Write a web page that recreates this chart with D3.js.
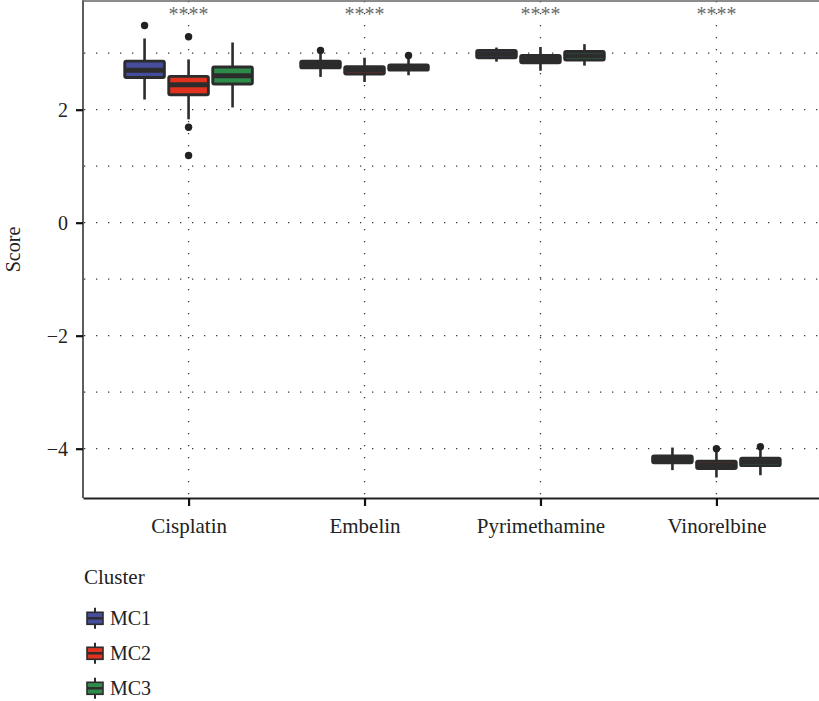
<!DOCTYPE html>
<html>
<head>
<meta charset="utf-8">
<script src="https://cdn.jsdelivr.net/npm/d3@7"></script>
<style>
  html, body { margin: 0; padding: 0; background: #ffffff; }
  svg text { font-family: "Liberation Serif", "Times New Roman", "DejaVu Serif", serif; }
</style>
</head>
<body>
<svg id="chart" width="819" height="701"></svg>
<script>
// Drug response scores by molecular cluster
const drugs = ["Cisplatin", "Embelin", "Pyrimethamine", "Vinorelbine"];
const clusters = ["MC1", "MC2", "MC3"];

// Box statistics per drug: [lower whisker, Q1, median, Q3, upper whisker]
const statsMC1 = [
  [2.18, 2.57, 2.70, 2.86, 3.26],
  [2.58, 2.74, 2.80, 2.86, 3.00],
  [2.85, 2.92, 2.985, 3.05, 3.10],
  [-4.38, -4.25, -4.19, -4.13, -3.98]
];
const statsMC2 = [
  [1.83, 2.265, 2.44, 2.59, 2.89],
  [2.49, 2.63, 2.70, 2.76, 2.92],
  [2.69, 2.83, 2.89, 2.96, 3.11],
  [-4.51, -4.35, -4.285, -4.22, -4.06]
];
const statsMC3 = [
  [2.04, 2.455, 2.60, 2.755, 3.19],
  [2.61, 2.70, 2.75, 2.79, 2.91],
  [2.78, 2.88, 2.955, 3.03, 3.16],
  [-4.47, -4.30, -4.233, -4.17, -4.02]
];

// Outlying points per drug
const outliersMC1 = [[3.49], [3.05], [], []];
const outliersMC2 = [[3.29, 1.69, 1.19], [], [], [-4.00]];
const outliersMC3 = [[], [2.96], [], [-3.965]];

// Significance marks above each drug
const significance = ["****", "****", "****", "****"];

const yTicks = [-4, -2, 0, 2];
const yMinor = [-3, -1, 1, 3];

const clusterColors = ["#464d9c", "#e1311f", "#2e8c4b"];

const allStats = [statsMC1, statsMC2, statsMC3];
const allOutliers = [outliersMC1, outliersMC2, outliersMC3];

const panel = { left: 83, right: 822, top: 1, bottom: 498 };
const serif = '"Liberation Serif", "Times New Roman", "DejaVu Serif", serif';

const svg = d3.select("#chart");

const x = d3.scalePoint().domain(drugs).range([panel.left, panel.right]).padding(0.6);
const dodge = d3.scaleBand().domain(clusters).range([-66, 66]);
const y = d3.scaleLinear().domain([-4.873, 3.924]).range([panel.bottom, panel.top]);

const ink = "#2c2c2c";

// Dotted grid
const grid = svg.append("g");
grid.selectAll("line.h")
  .data(yTicks.concat(yMinor))
  .join("line")
  .attr("x1", panel.left + 1).attr("x2", panel.right)
  .attr("y1", d => y(d)).attr("y2", d => y(d))
  .attr("stroke", "#3a3a3a").attr("stroke-width", 1.3)
  .attr("stroke-dasharray", "1.3,10.7");
grid.selectAll("line.v")
  .data(drugs)
  .join("line")
  .attr("x1", d => x(d)).attr("x2", d => x(d))
  .attr("y1", panel.top).attr("y2", panel.bottom)
  .attr("stroke", "#3a3a3a").attr("stroke-width", 1.3)
  .attr("stroke-dasharray", "1.3,10.7");

// Boxes
const boxW = dodge.bandwidth() * 0.9;
clusters.forEach((c, ci) => {
  const g = svg.append("g");
  const rows = drugs.map((d, di) => ({ drug: d, s: allStats[ci][di], out: allOutliers[ci][di] }));
  const cx = r => x(r.drug) + dodge(c) + dodge.bandwidth() / 2;

  // whiskers
  g.selectAll("line.w")
    .data(rows)
    .join("line")
    .attr("x1", cx).attr("x2", cx)
    .attr("y1", r => y(r.s[4])).attr("y2", r => y(r.s[0]))
    .attr("stroke", ink).attr("stroke-width", 2.6);

  // box
  g.selectAll("rect")
    .data(rows)
    .join("rect")
    .attr("x", r => cx(r) - boxW / 2)
    .attr("width", boxW)
    .attr("y", r => y(r.s[3]))
    .attr("height", r => y(r.s[1]) - y(r.s[3]))
    .attr("rx", 1.5)
    .attr("fill", clusterColors[ci])
    .attr("stroke", ink).attr("stroke-width", 2.9);

  // median
  g.selectAll("line.m")
    .data(rows)
    .join("line")
    .attr("x1", r => cx(r) - boxW / 2).attr("x2", r => cx(r) + boxW / 2)
    .attr("y1", r => y(r.s[2])).attr("y2", r => y(r.s[2]))
    .attr("stroke", ink).attr("stroke-width", 5);

  // outliers
  g.selectAll("circle")
    .data(rows.flatMap(r => r.out.map(v => ({ r, v }))))
    .join("circle")
    .attr("cx", o => cx(o.r))
    .attr("cy", o => y(o.v))
    .attr("r", 3.7)
    .attr("fill", "#222");
});

// Significance labels
svg.append("g").selectAll("text")
  .data(drugs)
  .join("text")
  .attr("x", d => x(d))
  .attr("y", 20.5)
  .attr("text-anchor", "middle")
  .style("font-family", serif)
  .attr("font-size", 20)
  .attr("fill", "#6a6a6a")
  .text((d, i) => significance[i]);

// Panel frame
svg.append("line")
  .attr("x1", panel.left).attr("x2", panel.right)
  .attr("y1", panel.top).attr("y2", panel.top)
  .attr("stroke", "#666").attr("stroke-width", 1.6);
svg.append("line")
  .attr("x1", panel.left).attr("x2", panel.left)
  .attr("y1", panel.top - 0.8).attr("y2", panel.bottom)
  .attr("stroke", "#5e5e5e").attr("stroke-width", 2);

// Y axis
const yAxis = svg.append("g")
  .attr("transform", `translate(${panel.left},0)`)
  .call(d3.axisLeft(y).tickValues(yTicks).tickSize(7).tickPadding(8));
yAxis.attr("font-family", null);
yAxis.select(".domain").remove();
yAxis.selectAll(".tick line").attr("stroke", "#111").attr("stroke-width", 2.2);
yAxis.selectAll(".tick text")
  .style("font-family", serif)
  .attr("font-size", 20).attr("fill", "#222");

// X axis
const xAxis = svg.append("g")
  .attr("transform", `translate(0,${panel.bottom})`)
  .call(d3.axisBottom(x).tickSize(8).tickPadding(12).tickSizeOuter(0));
xAxis.attr("font-family", null);
xAxis.select(".domain").attr("stroke", "#222").attr("stroke-width", 2);
xAxis.selectAll(".tick line").attr("stroke", "#111").attr("stroke-width", 2.2);
xAxis.selectAll(".tick text")
  .style("font-family", serif)
  .attr("font-size", 21).attr("fill", "#222");

// Y axis title
svg.append("text")
  .attr("transform", `translate(20,${(panel.top + panel.bottom) / 2}) rotate(-90)`)
  .attr("text-anchor", "middle")
  .style("font-family", serif)
  .attr("font-size", 20)
  .attr("fill", "#222")
  .text("Score");

// Legend
const legend = svg.append("g");
legend.append("text")
  .attr("x", 84).attr("y", 584)
  .style("font-family", serif)
  .attr("font-size", 21).attr("fill", "#222")
  .text("Cluster");
const keyY = d3.scalePoint().domain(clusters).range([618.3, 688.3]);
clusters.forEach((c, ci) => {
  const cy = keyY(c);
  legend.append("line")
    .attr("x1", 95).attr("x2", 95)
    .attr("y1", cy - 10.5).attr("y2", cy + 10.5)
    .attr("stroke", ink).attr("stroke-width", 2);
  legend.append("rect")
    .attr("x", 87).attr("y", cy - 6)
    .attr("width", 16).attr("height", 12)
    .attr("fill", clusterColors[ci])
    .attr("stroke", ink).attr("stroke-width", 1.6);
  legend.append("line")
    .attr("x1", 87).attr("x2", 103)
    .attr("y1", cy).attr("y2", cy)
    .attr("stroke", ink).attr("stroke-width", 2.4);
  legend.append("text")
    .attr("x", 110).attr("y", cy + 6.5)
    .style("font-family", serif)
    .attr("font-size", 20).attr("fill", "#222")
    .text(c);
});
</script>
</body>
</html>
